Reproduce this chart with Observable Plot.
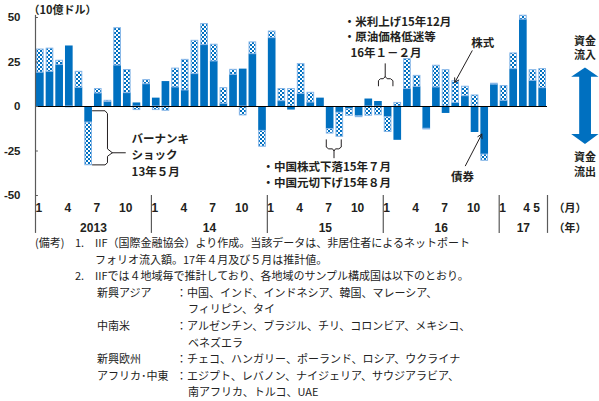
<!DOCTYPE html>
<html><head><meta charset="utf-8">
<script src="https://cdn.jsdelivr.net/npm/d3@7"></script>
<script src="https://cdn.jsdelivr.net/npm/@observablehq/plot@0.6"></script>
<style>
body{margin:0;background:#fff;}
#wrap{position:relative;width:599px;height:401px;overflow:hidden;font-family:"Noto Sans CJK JP",sans-serif;}
#chart svg{display:block;}
#notes{position:absolute;left:0;top:0;width:599px;font-size:11px;color:#222;}
#notes span{position:absolute;white-space:nowrap;line-height:14px;}
</style></head>
<body><div id="wrap"><div id="chart"></div><div id="notes"></div></div>
<script>
// ---- data (10億ドル), Jan 2013 – May 2017 ----
const years = ["2013", "14", "15", "16", "17"];
const yearMonths = [12, 12, 12, 12, 5];
const monthTickLabels = [["1","4","7","10"],["1","4","7","10"],["1","4","7","10"],["1","4","7","10"],["1","4 5"]];
const monthTickMonths = [[1,4,7,10],[1,4,7,10],[1,4,7,10],[1,4,7,10],[1,4]];
const bond = [
  19, 19.5, 23.3, 34, 10.5, -9, 7.3, 2.5, 23, 7.5, 2, 12.5,
  4.7, 14, 10.7, 9, 18.2, 34.5, 25.3, 1.5, 17.8, 21, 29.4, -13.7,
  38.4, 3, -2, 7, 2.2, 4.7, -12.7, -3.5, -1.5, -5.5, 4.2, 2.8,
  -6, -19, 9.8, 11, -12.5, 10.7, -3.9, 2, 5.8, -14.6, -27, 12.3,
  3.2, 21, 48.8, 14.4, 10.3
];
const equity = [
  13, 13, 2.4, -0.5, 9, -24, 2.5, 0.7, 21, 13, -2, 2.3,
  -2, -2.4, 10.6, 17.2, 18.7, 11.8, 9.4, 8.8, 2.8, -5, 6.6, -8.9,
  3.7, 6.8, 9.8, 16.8, 5.5, 0, -2.5, -13.5, -3.7, -0.5, -5.2, -4.9,
  -8.3, 2, 16.8, 6.2, -0.4, 12.2, 20.4, 12.2, 5.3, 6.2, -3.5, 0.5,
  8.3, 8.8, 2.2, 6, 10.7
];
const yTicks = [-50, -25, 0, 25, 50];

// ---- derived tables ----
const N = bond.length;
const bondRects = bond.map((v, i) => ({i, y1: 0, y2: v})).filter(d => d.y2 !== 0);
const eqRects = equity.map((v, i) => {
  const base = (v * bond[i] > 0) ? bond[i] : 0;
  return {i, y1: base, y2: base + v};
}).filter(d => d.y1 !== d.y2);
const starts = [];
let acc = 0;
yearMonths.forEach(n => { starts.push(acc); acc += n; });
const separators = [...starts.slice(1), N];
const monthLabels = [];
monthTickMonths.forEach((ms, k) => ms.forEach((m, j) => monthLabels.push({x: starts[k] + m - 1 + 0.5, t: monthTickLabels[k][j]})));
const yearLabelData = years.map((t, k) => ({x: starts[k] + yearMonths[k] / 2, t}));

const BLUE = "#0070C0";
const INK = "#231f20";
const jp = "'Noto Sans CJK JP', sans-serif";
const num = "'Liberation Sans Narrow','Liberation Sans',Arial,sans-serif";

// annotation geometry in data units (x: month index, y: 10億ドル)
const braceBernanke = [[5.9,-2.4],[7.2,-2.4],[7.45,-4],[7.45,-23.8],[7.95,-26],[7.45,-28],[7.45,-31.6],[7.2,-32.8],[5.9,-32.8]];
const tipBernanke = [[7.95,-26],[9.3,-26]];
const braceChina = [[30.1,-18.7],[30.1,-22.8],[30.35,-23.8],[30.75,-23.8],[30.9,-25],[31.05,-23.8],[31.4,-23.8],[31.65,-22.8],[31.65,-18.7]];
const tipChina = [[30.9,-25],[30.9,-28.8]];
const braceUS = [[35.5,11.6],[35.5,14.5],[35.7,15.6],[36.0,15.6],[36.2,16.8],[36.4,15.6],[36.75,15.6],[37.0,14.5],[37.0,11.6]];
const tipUS = [[36.2,16.8],[36.2,24]];
const dblArrow = [[56.88,21.9],[58.28,16.7],[57.5,16.7],[57.5,-15.5],[58.28,-15.5],[56.88,-21.1],[55.45,-15.5],[56.28,-15.5],[56.28,16.7],[55.45,16.7],[56.88,21.9]];
const P = a => a.map(([x, y]) => ({x, y}));

const txt = (rows, opts = {}) => Plot.text(rows, {x: "x", y: "y", text: "t", fontFamily: jp, fontSize: 11.5, fontWeight: "bold", fill: INK, textAnchor: "start", ...opts});

const chart = Plot.plot({
  width: 599, height: 236,
  marginTop: 17, marginBottom: 41, marginLeft: 35, marginRight: 52,
  x: {type: "linear", domain: [0, N], axis: null},
  y: {domain: [-50, 50], axis: null},
  style: {fontFamily: jp, fontSize: "11px", background: "transparent", overflow: "visible"},
  marks: [
    Plot.rect(bondRects, {x1: "i", x2: d => d.i + 1, y1: "y1", y2: "y2", fill: BLUE, insetLeft: 1, insetRight: 1}),
    Plot.rect(eqRects, {x1: "i", x2: d => d.i + 1, y1: "y1", y2: "y2", fill: "url(#chk)", stroke: "#86b6e8", strokeWidth: 1, insetLeft: 1.5, insetRight: 1.5}),
    Plot.ruleY([0], {x1: 0, x2: N, stroke: "#000", strokeWidth: 1.2}),
    Plot.ruleX([0], {y1: 51.2, y2: -71.3, stroke: "#5a5a5a", strokeWidth: 1.2}),
    Plot.ruleY(yTicks, {x1: 0, x2: 0.3, stroke: "#5a5a5a"}),
    Plot.ruleX(separators, {y1: -50, y2: -71.3, stroke: "#5a5a5a", strokeWidth: 1.2}),
    Plot.text(yTicks, {x: 0, y: d => d, dx: -15, textAnchor: "end", text: d => d < 0 ? "-" + (-d) : String(d), fontFamily: num, fontWeight: "bold", fontSize: 11.5, fill: INK}),
    Plot.text(monthLabels, {x: "x", y: -50, dy: 13, dx: -1.5, text: "t", fontFamily: num, fontWeight: "bold", fontSize: 12, fill: INK}),
    Plot.text(yearLabelData, {x: "x", y: -50, dy: 33, text: "t", fontFamily: num, fontWeight: "bold", fontSize: 12, fill: INK}),
    txt([{x: N, y: -50, t: "（月）"}], {dx: 6, dy: 13, fontSize: 11}),
    txt([{x: N, y: -50, t: "（年）"}], {dx: 6, dy: 33, fontSize: 11}),
    txt([{x: 0, y: 54.2, t: "（10億ドル）"}], {dx: -7, fontSize: 11}),
    // Bernanke
    Plot.line(P(braceBernanke), {x: "x", y: "y", stroke: INK, strokeWidth: 1}),
    Plot.line(P(tipBernanke), {x: "x", y: "y", stroke: INK, strokeWidth: 1}),
    txt([{x: 9.95, y: -18.3, t: "バーナンキ"}, {x: 9.95, y: -27.7, t: "ショック"}, {x: 9.95, y: -37.2, t: "13年５月"}]),
    // China
    Plot.line(P(braceChina), {x: "x", y: "y", stroke: INK, strokeWidth: 1}),
    Plot.line(P(tipChina), {x: "x", y: "y", stroke: INK, strokeWidth: 1}),
    txt([{x: 23.5, y: -34, t: "・中国株式下落15年７月"}, {x: 23.5, y: -43.4, t: "・中国元切下げ15年８月"}]),
    // US / oil
    Plot.line(P(braceUS), {x: "x", y: "y", stroke: INK, strokeWidth: 1}),
    Plot.line(P(tipUS), {x: "x", y: "y", stroke: INK, strokeWidth: 1}),
    txt([{x: 31.9, y: 47.2, t: "・米利上げ15年12月"}, {x: 31.9, y: 38.6, t: "・原油価格低迷等"}, {x: 32.6, y: 29.6, t: "16年１－２月"}]),
    // series callouts
    Plot.arrow([{x1: 45.2, y1: 31.3, x2: 43.4, y2: 13.5}], {x1: "x1", y1: "y1", x2: "x2", y2: "y2", stroke: INK, strokeWidth: 1, headLength: 7}),
    txt([{x: 46.3, y: 35.3, t: "株式"}], {textAnchor: "middle"}),
    Plot.arrow([{x1: 44.5, y1: -33.3, x2: 46.2, y2: -15.5}], {x1: "x1", y1: "y1", x2: "x2", y2: "y2", stroke: INK, strokeWidth: 1, headLength: 7}),
    txt([{x: 44.2, y: -40, t: "債券"}], {textAnchor: "middle"}),
    // inflow / outflow
    Plot.line(P(dblArrow), {x: "x", y: "y", fill: BLUE, stroke: "none"}),
    txt([{x: 56.88, y: 36.8, t: "資金"}, {x: 56.88, y: 28.6, t: "流入"}, {x: 56.88, y: -28.4, t: "資金"}, {x: 56.88, y: -36.8, t: "流出"}], {textAnchor: "middle", fontSize: 11})
  ]
});

// checker pattern for equity bars
const defs = document.createElementNS("http://www.w3.org/2000/svg", "defs");
defs.innerHTML = '<pattern id="chk" width="4" height="4" patternUnits="userSpaceOnUse">' +
  '<rect width="4" height="4" fill="' + BLUE + '"/>' +
  '<rect x="0" y="0" width="2" height="2" fill="#fff"/>' +
  '<rect x="2" y="2" width="2" height="2" fill="#fff"/></pattern>';
chart.insertBefore(defs, chart.firstChild);
document.getElementById("chart").appendChild(chart);

// ---- notes ----
const noteLines = [
  [[35, "(備考)"], [75, "1."], [95, "IIF（国際金融協会）より作成。当該データは、非居住者によるネットポート"]],
  [[95, "フォリオ流入額。17年４月及び５月は推計値。"]],
  [[75, "2."], [95, "IIFでは４地域毎で推計しており、各地域のサンプル構成国は以下のとおり。"]],
  [[97, "新興アジア"], [176, "：中国、インド、インドネシア、韓国、マレーシア、"]],
  [[188, "フィリピン、タイ"]],
  [[97, "中南米"], [176, "：アルゼンチン、ブラジル、チリ、コロンビア、メキシコ、"]],
  [[188, "ベネズエラ"]],
  [[97, "新興欧州"], [176, "：チェコ、ハンガリー、ポーランド、ロシア、ウクライナ"]],
  [[97, "アフリカ･中東"], [176, "：エジプト、レバノン、ナイジェリア、サウジアラビア、"]],
  [[188, "南アフリカ、トルコ、UAE"]]
];
const notes = document.getElementById("notes");
noteLines.forEach((parts, r) => parts.forEach(([x, t]) => {
  const s = document.createElement("span");
  s.textContent = t;
  s.style.left = x + "px";
  s.style.top = (235 + r * 16.6) + "px";
  notes.appendChild(s);
}));
</script></body></html>
